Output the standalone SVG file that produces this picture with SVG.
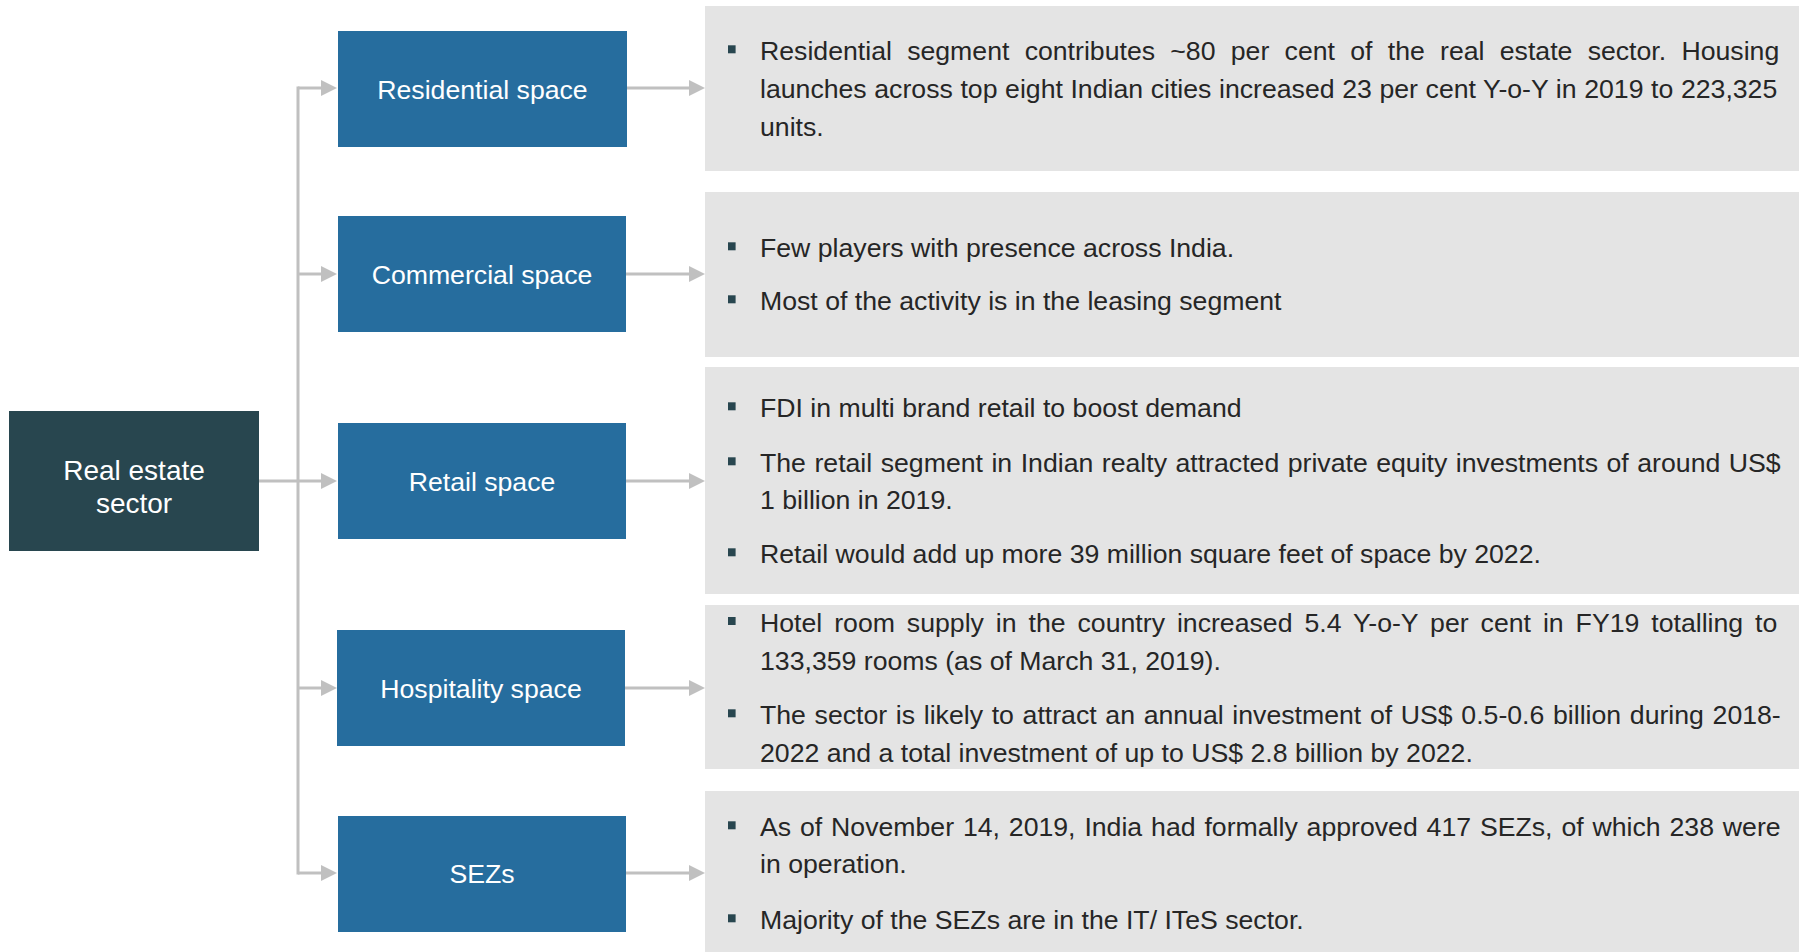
<svg xmlns="http://www.w3.org/2000/svg" width="1805" height="952" viewBox="0 0 1805 952">
<style>
.box{fill:#266D9E}
.root{fill:#28464F}
.lbl{font-family:"Liberation Sans",Arial,sans-serif;font-size:26.67px;fill:#ffffff;text-anchor:middle}
.rlbl{font-size:28px}
.panel{fill:#E4E4E4}
.txt{font-family:"Liberation Sans",Arial,sans-serif;font-size:26.67px;fill:#262626}
.bul{fill:#28464F}
.conn{stroke:#C0C0C0;stroke-width:3;fill:none}
</style>
<defs>
<marker id="ah" markerUnits="userSpaceOnUse" markerWidth="16" markerHeight="16" viewBox="0 0 16 16" refX="0" refY="8" orient="auto">
<path d="M0,0 L16,8 L0,16 z" fill="#C0C0C0"/>
</marker>
</defs>
<rect width="1805" height="952" fill="#ffffff"/>

<g id="panel-residential">
<rect class="panel" x="705" y="6" width="1094" height="165"/>
<rect class="bul" x="728" y="45.3" width="7.6" height="8"/>
<text class="txt" x="760" y="60" style="word-spacing:7.86px">Residential segment contributes ~80 per cent of the real estate sector. Housing</text>
<text class="txt" x="760" y="98" style="word-spacing:0.19px">launches across top eight Indian cities increased 23 per cent Y-o-Y in 2019 to 223,325</text>
<text class="txt" x="760" y="136">units.</text>
</g>

<g id="panel-commercial">
<rect class="panel" x="705" y="192" width="1094" height="165"/>
<rect class="bul" x="728" y="242.3" width="7.6" height="8"/>
<text class="txt" x="760" y="257">Few players with presence across India.</text>
<rect class="bul" x="728" y="295.3" width="7.6" height="8"/>
<text class="txt" x="760" y="310">Most of the activity is in the leasing segment</text>
</g>

<g id="panel-retail">
<rect class="panel" x="705" y="367" width="1094" height="227"/>
<rect class="bul" x="728" y="402.3" width="7.6" height="8"/>
<text class="txt" x="760" y="417">FDI in multi brand retail to boost demand</text>
<rect class="bul" x="728" y="457.3" width="7.6" height="8"/>
<text class="txt" x="760" y="472" style="word-spacing:1.09px">The retail segment in Indian realty attracted private equity investments of around US$</text>
<text class="txt" x="760" y="509">1 billion in 2019.</text>
<rect class="bul" x="728" y="548.3" width="7.6" height="8"/>
<text class="txt" x="760" y="563">Retail would add up more 39 million square feet of space by 2022.</text>
</g>

<g id="panel-hospitality">
<rect class="panel" x="705" y="605" width="1094" height="164"/>
<rect class="bul" x="728" y="617" width="7.6" height="8"/>
<text class="txt" x="760" y="632" style="word-spacing:4.54px">Hotel room supply in the country increased 5.4 Y-o-Y per cent in FY19 totalling to</text>
<text class="txt" x="760" y="670">133,359 rooms (as of March 31, 2019).</text>
<rect class="bul" x="728" y="709.3" width="7.6" height="8"/>
<text class="txt" x="760" y="724" style="word-spacing:1.26px">The sector is likely to attract an annual investment of US$ 0.5-0.6 billion during 2018-</text>
<text class="txt" x="760" y="762">2022 and a total investment of up to US$ 2.8 billion by 2022.</text>
</g>

<g id="panel-sezs">
<rect class="panel" x="705" y="791" width="1094" height="161"/>
<rect class="bul" x="728" y="821.3" width="7.6" height="8"/>
<text class="txt" x="760" y="836" style="word-spacing:1.46px">As of November 14, 2019, India had formally approved 417 SEZs, of which 238 were</text>
<text class="txt" x="760" y="873">in operation.</text>
<rect class="bul" x="728" y="914.3" width="7.6" height="8"/>
<text class="txt" x="760" y="929">Majority of the SEZs are in the IT/ ITeS sector.</text>
</g>

<g id="connectors">
<path class="conn" d="M298,86.5 V874.5"/>
<path class="conn" d="M259,481 H321" marker-end="url(#ah)"/>
<path class="conn" d="M298,88 H321" marker-end="url(#ah)"/>
<path class="conn" d="M298,274 H321" marker-end="url(#ah)"/>
<path class="conn" d="M298,688 H321" marker-end="url(#ah)"/>
<path class="conn" d="M298,873 H321" marker-end="url(#ah)"/>
<path class="conn" d="M627,88 H689" marker-end="url(#ah)"/>
<path class="conn" d="M626,274 H689" marker-end="url(#ah)"/>
<path class="conn" d="M626,481 H689" marker-end="url(#ah)"/>
<path class="conn" d="M625,688 H689" marker-end="url(#ah)"/>
<path class="conn" d="M626,873 H689" marker-end="url(#ah)"/>
</g>

<g id="root">
<rect class="root" x="9" y="411" width="250" height="140"/>
<text class="lbl rlbl" x="134" y="480">Real estate</text>
<text class="lbl rlbl" x="134" y="513">sector</text>
</g>

<g id="residential">
<rect class="box" x="338" y="31" width="289" height="116"/>
<text class="lbl" x="482.5" y="99">Residential space</text>
</g>

<g id="commercial">
<rect class="box" x="338" y="216" width="288" height="116"/>
<text class="lbl" x="482" y="284">Commercial space</text>
</g>

<g id="retail">
<rect class="box" x="338" y="423" width="288" height="116"/>
<text class="lbl" x="482" y="491">Retail space</text>
</g>

<g id="hospitality">
<rect class="box" x="337" y="630" width="288" height="116"/>
<text class="lbl" x="481" y="698">Hospitality space</text>
</g>

<g id="sezs">
<rect class="box" x="338" y="816" width="288" height="116"/>
<text class="lbl" x="482" y="883">SEZs</text>
</g>
</svg>
